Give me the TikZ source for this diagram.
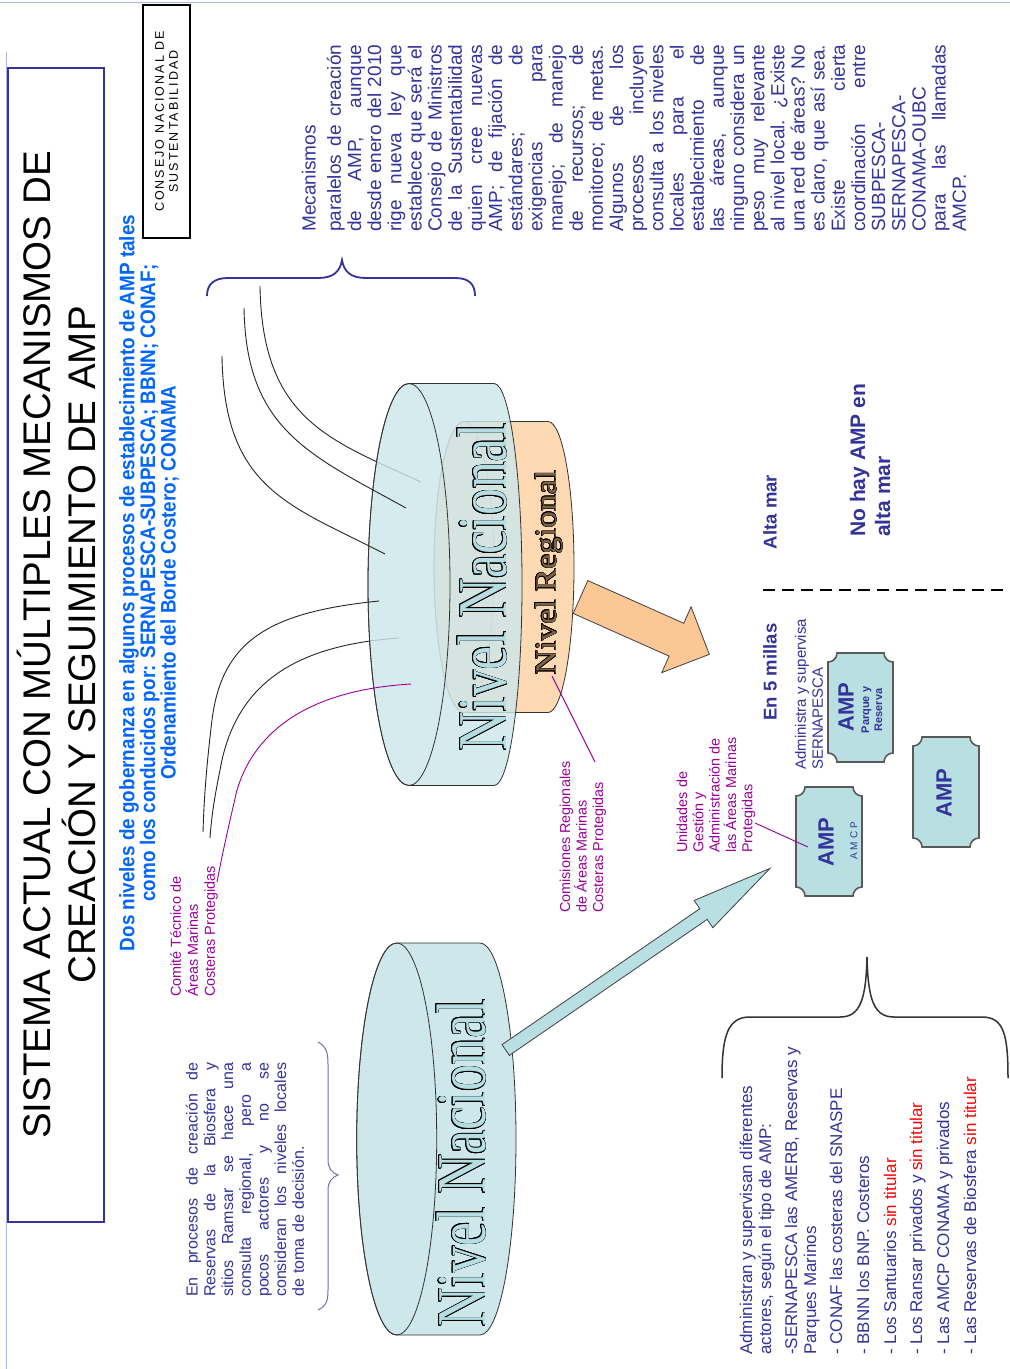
\documentclass[tikz,border=0pt]{standalone}
\usepackage{fontspec}
\setmainfont{Liberation Sans}
\newfontfamily\wordart[FakeStretch=0.77]{Liberation Serif}
\newfontfamily\regart[FakeStretch=1.12]{Liberation Serif}
\newfontfamily\narrowsans[FakeStretch=0.9]{Liberation Sans}
\usepackage[copies]{contour}
\contourlength{0.8pt}

\definecolor{ampnavy}{HTML}{333399}
\definecolor{brightblue}{HTML}{0066FF}
\definecolor{labelpurple}{HTML}{990099}
\definecolor{nacfill}{HTML}{CDE7EA}
\definecolor{letterfill}{HTML}{B6DEE2}
\definecolor{regfill}{HTML}{FDD9B4}
\definecolor{regletter}{HTML}{7A6246}
\definecolor{arrowor}{HTML}{FBC794}
\definecolor{ampfill}{HTML}{B8DFE1}
\definecolor{framelight}{HTML}{A9B5E6}

% one justified line (spaces may stretch again inside the box)
\newcommand{\jline}[1]{{\spaceskip=0pt\xspaceskip=0pt\makebox[\linewidth][s]{#1}}\\}
\newcommand{\redtxt}[1]{\textcolor{red}{#1}}
% plaque shaped box: left, bottom, right, top
\newcommand{\plaque}[4]{%
  \filldraw[ampbox] (#1+9,#2) -- (#3-9,#2) arc[start angle=180,end angle=90,radius=9]
    -- (#3,#4-9) arc[start angle=270,end angle=180,radius=9]
    -- (#1+9,#4) arc[start angle=0,end angle=-90,radius=9]
    -- (#1,#2+9) arc[start angle=90,end angle=0,radius=9] -- cycle;}

\begin{document}
\begin{tikzpicture}[x=1pt, y=1pt,
  every node/.style={rotate=90, inner sep=0pt},
  wire/.style={line width=0.9pt, black!85},
  cylinder/.style={draw=black!80, line width=0.8pt, fill=nacfill},
  ampbox/.style={draw=black!65, line width=1.6pt, fill=ampfill},
  body/.style={text=ampnavy, align=left},
  purp/.style={text=labelpurple, align=left, font=\fontsize{14.4}{17}\selectfont},
  ampword/.style={text=ampnavy, font=\bfseries\fontsize{22}{22}\selectfont}]

\useasboundingbox (0,0) rectangle (1010,-1369);
\fill[white] (0,0) rectangle (1010,-1369);
\draw[framelight, line width=0.8pt] (0,-2.5) -- (1010,-2.5);
\draw[framelight, line width=0.8pt] (6,-52) -- (6,-1369);

% heading
\node[draw=ampnavy, line width=1.3pt, minimum width=1154pt, minimum height=96pt,
  align=center, font=\fontsize{38.5}{45}\selectfont] (title) at (56,-645)
  {SISTEMA ACTUAL CON MÚLTIPLES MECANISMOS DE\\CREACIÓN Y SEGUIMIENTO DE AMP};
\node[draw=black, line width=1.3pt, minimum width=233pt, minimum height=47pt, align=center,
  font=\fontsize{12.5}{14}\selectfont\addfontfeature{LetterSpace=16}] (consejo) at (166.5,-121.5)
  {CONSEJO NACIONAL DE\\SUSTENTABILIDAD};
\node[text=brightblue, align=center, font=\narrowsans\bfseries\fontsize{21}{19.5}\selectfont]
  (niveles) at (149,-583)
  {Dos niveles de gobernanza en algunos procesos de establecimiento de AMP tales\\
   como los conducidos por: SERNAPESCA-SUBPESCA; BBNN; CONAF;\\
   Ordenamiento del Borde Costero; CONAMA};

% brace over the parallel mechanisms
\draw[ampnavy, line width=1.8pt] (207,-296) .. controls (207,-284) and (214,-278) .. (228,-278)
  -- (318,-278) .. controls (333,-278) and (340,-272) .. (342,-260)
  .. controls (344,-272) and (351,-278) .. (366,-278) -- (455,-278)
  .. controls (469,-278) and (475,-284) .. (475,-296);

% regional level behind the national one
\filldraw[draw=black!80, line width=0.8pt, fill=regfill] (464,-421.5) -- (548,-421.5)
  arc[start angle=90, end angle=-90, x radius=26, y radius=145.5] -- (464,-712.5)
  arc[start angle=270, end angle=90, x radius=30, y radius=145.5] -- cycle;
\draw[black!45, line width=0.6pt] (464,-567) ellipse[x radius=30, y radius=145.5];
\node[text=regletter, font=\regart\fontsize{30}{30}\selectfont, anchor=base] (regtxt)
  at (556,-572.5) {\contourlength{0.45pt}\contour{black}{Nivel Regional}};

\coordinate (w1a) at (260,-286); \coordinate (w1b) at (421,-482);
\coordinate (w2a) at (244,-308); \coordinate (w2b) at (406,-508);
\coordinate (w3a) at (222,-356); \coordinate (w3b) at (385,-554);
\coordinate (w4a) at (379,-601); \coordinate (w4b) at (203,-832);
\coordinate (w5a) at (399,-638); \coordinate (w5b) at (210,-838);
\coordinate (w6a) at (411,-684); \coordinate (w6b) at (217,-882);
\draw[wire] (w1a) .. controls (262,-420) and (330,-440) .. (w1b);
\draw[wire] (w5a) .. controls (300,-645) and (240,-680) .. (222,-760)
  .. controls (216,-790) and (212,-810) .. (w5b);

% national level
\filldraw[cylinder, fill opacity=0.82] (409,-383.5) -- (494,-383.5)
  arc[start angle=90, end angle=-90, x radius=28, y radius=201] -- (409,-785.5)
  arc[start angle=270, end angle=90, x radius=41, y radius=201] -- cycle;
\draw[black!80, line width=0.8pt] (409,-584.5) ellipse[x radius=41, y radius=201];
\node[text=letterfill, font=\wordart\fontsize{70}{70}\selectfont, anchor=base] (nactxt)
  at (506,-587) {\contour{black}{Nivel Nacional}};

\draw[wire] (w2a) .. controls (246,-430) and (310,-455) .. (w2b);
\draw[wire] (w3a) .. controls (224,-490) and (290,-505) .. (w3b);
\draw[wire] (w4a) .. controls (270,-612) and (222,-640) .. (212,-720)
  .. controls (206,-770) and (204,-800) .. (w4b);
\draw[line width=0.9pt, labelpurple] (w6a) .. controls (310,-690) and (255,-730) .. (237,-790)
  .. controls (230,-820) and (222,-855) .. (w6b);

\begin{scope}[shift={(580.5,-597)}, rotate=-24]
  \filldraw[draw=black!75, line width=0.8pt, fill=arrowor] (0,18) -- (105,18) -- (105,36)
    -- (141,0) -- (105,-36) -- (105,-18) -- (0,-18) -- cycle;
\end{scope}

% national level alone
\filldraw[cylinder] (396.7,-943) -- (480,-943)
  arc[start angle=90, end angle=-90, x radius=36, y radius=196] -- (396.7,-1335)
  arc[start angle=270, end angle=90, x radius=40, y radius=196] -- cycle;
\draw[black!80, line width=0.8pt] (396.7,-1139) ellipse[x radius=40, y radius=196];
\node[text=letterfill, font=\wordart\fontsize{70}{70}\selectfont, anchor=base] (nactxt2)
  at (485,-1163) {\contour{black}{Nivel Nacional}};

\begin{scope}[shift={(505.7,-1050)}, rotate=34.5]
  \filldraw[draw=black!75, line width=0.8pt, fill=ampfill] (0,6.5) -- (240,6.5) -- (240,16.5)
    -- (320.7,0) -- (240,-16.5) -- (240,-6.5) -- (0,-6.5) -- cycle;
\end{scope}

% left note with its brace
\draw[ampnavy!70, line width=1pt] (318,-1042) .. controls (326,-1046) and (328,-1052) .. (328,-1064)
  -- (328,-1160) .. controls (328,-1168) and (332,-1173) .. (338,-1175)
  .. controls (332,-1177) and (328,-1182) .. (328,-1190) -- (328,-1290)
  .. controls (328,-1302) and (326,-1306) .. (318,-1310);
\node[body, text width=234pt, anchor=west, font=\fontsize{16}{17.7}\selectfont] (ramsar)
  at (245,-1297) {\jline{En procesos de creación de}\jline{Reservas de la Biosfera y}%
  \jline{sitios Ramsar se hace una}\jline{consulta regional, pero a}%
  \jline{pocos actores y no se}\jline{consideran los niveles locales}de toma de decisión.};

% parallel mechanisms
\node[body, text width=187pt, anchor=west, font=\fontsize{19}{20.16}\selectfont] (mecanismos)
  at (634,-232) {Mecanismos\\[5pt]
  \jline{paralelos de creación}\jline{de AMP, aunque}\jline{desde enero del 2010}%
  \jline{rige nueva ley que}\jline{establece que será el}\jline{Consejo de Ministros}%
  \jline{de la Sustentabilidad}\jline{quien cree nuevas}\jline{AMP; de fijación de}%
  \jline{estándares; de}\jline{exigencias para}\jline{manejo; de manejo}%
  \jline{de recursos; de}\jline{monitoreo; de metas.}\jline{Algunos de los}%
  \jline{procesos incluyen}\jline{consulta a los niveles}\jline{locales para el}%
  \jline{establecimiento de}\jline{las áreas, aunque}\jline{ninguno considera un}%
  \jline{peso muy relevante}\jline{al nivel local. ¿Existe}\jline{una red de áreas? No}%
  \jline{es claro, que así sea.}\jline{Existe cierta}\jline{coordinación entre}%
  SUBPESCA-\\SERNAPESCA-\\CONAMA-OUBC\\\jline{para las llamadas}AMCP.};

% committees
\node[purp, anchor=west] (comite) at (194,-997)
  {Comité Técnico de\\Áreas Marinas\\Costeras Protegidas};
\node[purp, font=\fontsize{14.4}{16.5}\selectfont, anchor=west] (comisiones) at (583,-913)
  {Comisiones Regionales\\de Áreas Marinas\\Costeras Protegidas};
\node[purp, font=\fontsize{14.4}{16.3}\selectfont, anchor=west] (unidades) at (716,-853)
  {Unidades de\\Gestión y\\Administración de\\las Áreas Marinas\\Protegidas};
\coordinate (regpt) at (552,-676); \coordinate (comlink) at (595,-762);
\coordinate (unilink) at (755,-823); \coordinate (amcppt) at (808,-847);
\draw[line width=0.9pt, labelpurple] (comlink) -- (regpt);

% protected areas
\plaque{796}{-896}{862}{-787}
\plaque{828}{-762}{893}{-653}
\plaque{913}{-847}{979}{-737}
\draw[line width=0.9pt, labelpurple] (unilink) -- (amcppt);
\node[ampword] (ampA) at (826,-842) {AMP};
\node[text=ampnavy, font=\fontsize{10}{10}\selectfont\addfontfeature{LetterSpace=30}] (amcp)
  at (854,-841) {AMCP};
\node[ampword] (ampB) at (846,-707) {AMP};
\node[text=ampnavy, align=center, font=\bfseries\fontsize{11}{13}\selectfont] (parque)
  at (872,-710) {Parque y\\Reserva};
\node[ampword] (ampC) at (944,-793) {AMP};

\node[body, anchor=west, font=\fontsize{15}{17}\selectfont] (admsup) at (809,-770)
  {Administra y supervisa\\SERNAPESCA};
\node[text=ampnavy, font=\bfseries\fontsize{18.5}{20}\selectfont] (millas) at (770,-672) {En 5 millas};
\node[text=ampnavy, font=\bfseries\fontsize{18.5}{20}\selectfont] (altamar) at (770,-512) {Alta mar};
\node[body, anchor=west, font=\bfseries\fontsize{21}{25}\selectfont] (nohay) at (870,-537)
  {No hay AMP en\\alta mar};
\coordinate (limA) at (763,-590); \coordinate (limB) at (1005,-590);
\draw[line width=1.3pt, dash pattern=on 12pt off 7pt] (limA) -- (limB);

% actors per area type
\draw[black!80, line width=1.5pt] (722,-1078) .. controls (722,-1035) and (728,-1017) .. (750,-1017)
  -- (840,-1017) .. controls (860,-1017) and (866,-1000) .. (867,-957)
  .. controls (868,-1000) and (874,-1017) .. (894,-1017) -- (982,-1017)
  .. controls (1004,-1017) and (1008,-1035) .. (1008,-1078);
\node[body, anchor=west, font=\fontsize{17}{19}\selectfont] (actores) at (858,-1355)
  {Administran y supervisan diferentes\\actores, según el tipo de AMP:\\[7pt]
   -SERNAPESCA las AMERB, Reservas y\\Parques Marinos\\[7pt]
   - CONAF las costeras del SNASPE\\[8pt]
   - BBNN los BNP. Costeros\\[8pt]
   - Los Santuarios \redtxt{sin titular}\\[7pt]
   - Los Ransar privados y \redtxt{sin titular}\\[8pt]
   - Las AMCP CONAMA y privados\\[8pt]
   - Las Reservas de Biosfera \redtxt{sin titular}};
\end{tikzpicture}
\end{document}
